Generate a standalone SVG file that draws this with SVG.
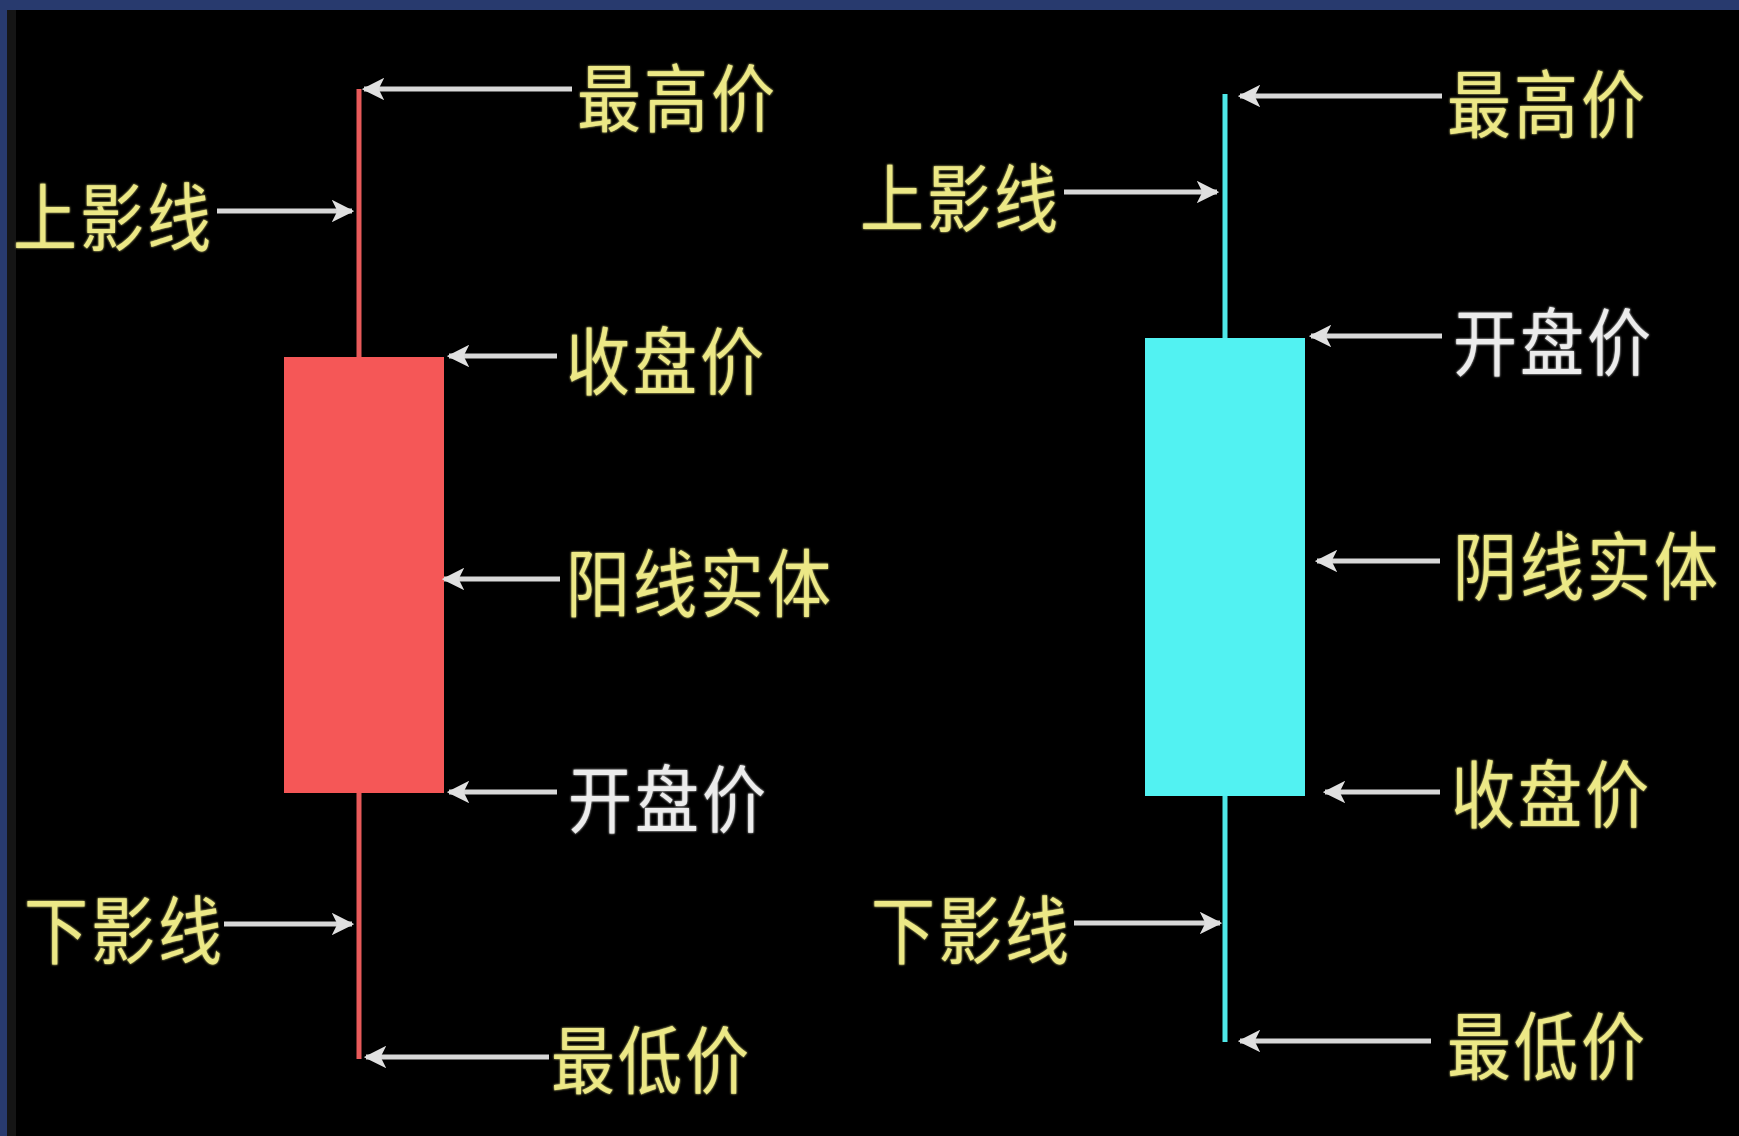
<svg xmlns="http://www.w3.org/2000/svg" width="1739" height="1136" viewBox="0 0 1739 1136">
<defs>
<style>
.lbl{font-family:"Noto Sans CJK SC","Noto Sans CJK TC",sans-serif;font-size:64px;letter-spacing:3px;dominant-baseline:central;}
.y{fill:#ece886;}
.w{fill:#ececec;}
.arr{stroke:#d8d8d8;stroke-width:5;fill:none;marker-end:url(#ah);}
</style>
<marker id="ah" viewBox="0 0 10 10" refX="9" refY="5" markerWidth="4.5" markerHeight="4.5" orient="auto" markerUnits="strokeWidth">
<path d="M0,0 L10,5 L0,10 L2.5,5 Z" fill="#e0e0e0"/>
</marker>
<filter id="glow" x="-10%" y="-20%" width="120%" height="140%">
<feGaussianBlur stdDeviation="1.2" result="b"/>
<feMerge><feMergeNode in="b"/><feMergeNode in="SourceGraphic"/></feMerge>
</filter>
</defs>
<rect x="0" y="0" width="1739" height="1136" fill="#000"/>
<rect x="7" y="10" width="9" height="1126" fill="#151515"/>
<rect x="0" y="0" width="1739" height="10" fill="#283a6e"/>
<rect x="0" y="0" width="7" height="1136" fill="#283a6e"/>

<g id="candle-yang">
<line x1="359" y1="89" x2="359" y2="1059" stroke="#e85a5a" stroke-width="5"/>
<rect x="284" y="357" width="160" height="436" fill="#f55757"/>
</g>
<g id="candle-yin">
<line x1="1225" y1="94" x2="1225" y2="1042" stroke="#4ee8e8" stroke-width="5"/>
<rect x="1145" y="338" width="160" height="458" fill="#52f2f2"/>
</g>

<g id="connectors">
<line class="arr" x1="572" y1="89" x2="364" y2="89"/>
<line class="arr" x1="217" y1="211" x2="352" y2="211"/>
<line class="arr" x1="557" y1="356" x2="449" y2="356"/>
<line class="arr" x1="560" y1="579" x2="444" y2="579"/>
<line class="arr" x1="557" y1="792" x2="449" y2="792"/>
<line class="arr" x1="224" y1="924" x2="352" y2="924"/>
<line class="arr" x1="549" y1="1057" x2="366" y2="1057"/>
<line class="arr" x1="1442" y1="96" x2="1240" y2="96"/>
<line class="arr" x1="1064" y1="192" x2="1217" y2="192"/>
<line class="arr" x1="1442" y1="336" x2="1311" y2="336"/>
<line class="arr" x1="1440" y1="561" x2="1317" y2="561"/>
<line class="arr" x1="1440" y1="792" x2="1325" y2="792"/>
<line class="arr" x1="1074" y1="923" x2="1220" y2="923"/>
<line class="arr" x1="1431" y1="1041" x2="1240" y2="1041"/>
</g>

<g filter="url(#glow)">
<g id="l-high"><text class="lbl y" transform="translate(577,94) scale(1,1.15)">最高价</text></g>
<g id="l-upper"><text class="lbl y" transform="translate(13,213) scale(1,1.15)">上影线</text></g>
<g id="l-close"><text class="lbl y" transform="translate(566,357) scale(1,1.15)">收盘价</text></g>
<g id="l-body"><text class="lbl y" transform="translate(566,579) scale(1,1.15)">阳线实体</text></g>
<g id="l-open"><text class="lbl w" transform="translate(568,795) scale(1,1.15)">开盘价</text></g>
<g id="l-lower"><text class="lbl y" transform="translate(24,926) scale(1,1.15)">下影线</text></g>
<g id="l-low"><text class="lbl y" transform="translate(551,1056) scale(1,1.15)">最低价</text></g>
<g id="r-high"><text class="lbl y" transform="translate(1447,100) scale(1,1.15)">最高价</text></g>
<g id="r-upper"><text class="lbl y" transform="translate(860,194) scale(1,1.15)">上影线</text></g>
<g id="r-open"><text class="lbl w" transform="translate(1453,338) scale(1,1.15)">开盘价</text></g>
<g id="r-body"><text class="lbl y" transform="translate(1453,562) scale(1,1.15)">阴线实体</text></g>
<g id="r-close"><text class="lbl y" transform="translate(1451,790) scale(1,1.15)">收盘价</text></g>
<g id="r-lower"><text class="lbl y" transform="translate(871,926) scale(1,1.15)">下影线</text></g>
<g id="r-low"><text class="lbl y" transform="translate(1447,1042) scale(1,1.15)">最低价</text></g>
</g>
</svg>
